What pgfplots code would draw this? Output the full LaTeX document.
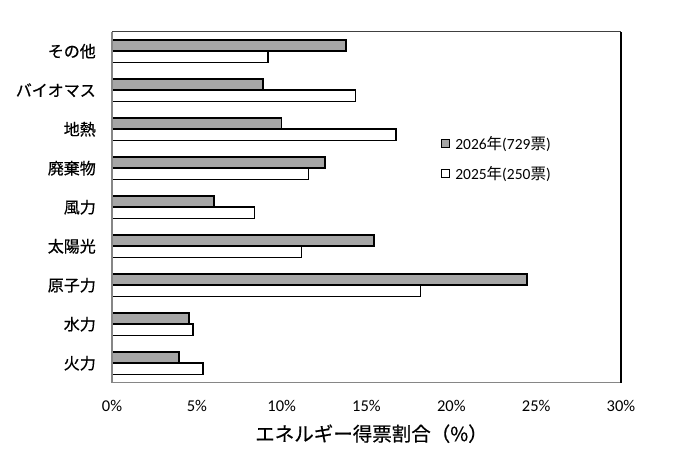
\documentclass[border=0pt]{standalone}
\usepackage{pgfplots}
\pgfplotsset{compat=1.18}
\usepackage{fontspec}
\setmainfont{Carlito}
\newfontfamily\jp{Noto Sans CJK JP}
\newfontfamily\jpb{Noto Sans CJK JP}[FakeBold=0.6]
\definecolor{barg}{HTML}{A6A6A6}
\definecolor{axg}{HTML}{868686}
\begin{document}
\begin{tikzpicture}
\path[use as bounding box] (0,0) rectangle (680pt,456pt);
\begin{axis}[
  at={(112pt,73.3pt)}, anchor=south west,
  width=509pt, height=351pt, scale only axis,
  xbar, bar width=0.29,
  xmin=0, xmax=30, ymin=-0.5, ymax=8.5,
  xtick={0,5,10,15,20,25,30},
  xticklabels={0\%,5\%,10\%,15\%,20\%,25\%,30\%},
  ytick={0,1,2,3,4,5,6,7,8},
  yticklabels={火力,水力,原子力,太陽光,風力,廃棄物,地熱,バイオマス,その他},
  major tick length=0pt,
  axis line style={draw=none},
  xticklabel style={font=\fontsize{16.5}{18}\selectfont, inner sep=0pt, anchor=north, yshift=-17pt},
  yticklabel style={font=\jpb\fontsize{16}{17}\selectfont, inner sep=0pt, anchor=east, xshift=-16pt},
  xlabel={\jpb エネルギー得票割合（\%）},
  xlabel style={font=\fontsize{19.5}{21}\selectfont, inner sep=0pt, anchor=center, at={(axis description cs:0.5,0)}, yshift=-51pt, xshift=5pt},
  legend style={at={(axis description cs:0.646,0.705)}, anchor=north west, draw=none, fill=none,
    font=\fontsize{15.5}{17}\selectfont, row sep=13pt, inner sep=0pt,
    nodes={inner sep=1pt}, cells={anchor=west}},
  legend image code/.code={\draw[#1, line width=1pt] (0pt,-4pt) rectangle (8pt,4pt); \path (12pt,0pt);},
  clip=false,
]
\addplot[fill=barg, draw=black, line width=1.6pt, bar shift=0.145] coordinates {
  (3.96,0) (4.53,1) (24.45,2) (15.43,3) (6.02,4) (12.57,5) (9.98,6) (8.9,7) (13.8,8)
};
\addlegendentry{2026{\jp 年}(729{\jp 票})}
\addplot[fill=white, draw=black, line width=1.6pt, bar shift=-0.145] coordinates {
  (5.35,0) (4.76,1) (18.18,2) (11.18,3) (8.39,4) (11.57,5) (16.75,6) (14.35,7) (9.2,8)
};
\addlegendentry{2025{\jp 年}(250{\jp 票})}
\draw[axg, line width=1.5pt] (rel axis cs:0,0) -- (rel axis cs:0,1);
\draw[axg, line width=1.5pt] (rel axis cs:0,0) -- (rel axis cs:1,0);
\draw[black!75, line width=0.8pt] (rel axis cs:0,1) -- (rel axis cs:1,1);
\draw[black, line width=2.4pt] (rel axis cs:1,0) -- (rel axis cs:1,1);
\end{axis}
\end{tikzpicture}
\end{document}
